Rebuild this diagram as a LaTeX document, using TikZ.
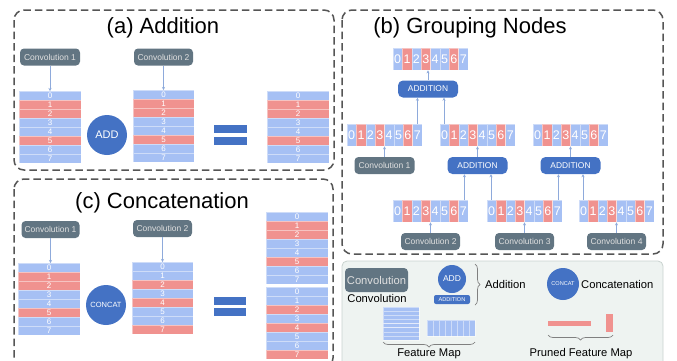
\documentclass[tikz,border=0pt]{standalone}
\usepackage{fontspec}
\setmainfont{Liberation Sans}
\usetikzlibrary{arrows.meta,decorations.pathreplacing,calc}

\definecolor{slate}{HTML}{627582}
\definecolor{accent}{HTML}{4472C4}
\definecolor{cellB}{HTML}{A6C0F4}
\definecolor{cellR}{HTML}{F0928F}
\definecolor{link}{HTML}{8EAADB}
\definecolor{frame}{HTML}{555555}
\definecolor{legendbg}{HTML}{EEF3F1}
\definecolor{legendline}{HTML}{C9D3CF}

\newcommand\fs[1]{\fontsize{#1}{#1}\selectfont}

\tikzset{
  x=1pt, y=-1pt,
  panel/.style={draw=frame, line width=1.5pt, dash pattern=on 7.5pt off 4pt, rounded corners=10pt},
  title/.style={font=\fs{22}, anchor=base, inner sep=0},
  convbox/.style={fill=slate, rounded corners=4pt, text=white!88!black, font=\fs{8.5},
    inner sep=0, minimum height=17pt, minimum width=60pt},
  addbox/.style={fill=accent, rounded corners=5pt, text=white, font=\fs{8.4},
    inner sep=0, minimum height=17pt, minimum width=60pt},
  opcircle/.style={circle, fill=accent, text=white, inner sep=0, minimum size=40pt},
  conn/.style={draw=link, line width=0.7pt, -{Stealth[length=3pt,width=3pt]}},
  mapframe/.style={inner sep=0, anchor=north west},
  cellsep/.style={draw=white, draw opacity=0.45, line width=0.4pt},
  vdigit/.style={font=\fs{8}, text=white, inner sep=0, anchor=base},
  hdigit/.style={font=\fs{12.5}, text=white, inner sep=0, anchor=base},
  bracket/.style={decorate, decoration={brace, amplitude=5pt}, draw=gray, line width=0.7pt},
  label/.style={font=\fs{11.2}, inner sep=0},
}

% vertical feature map: name, left, top, width, cell colours (rows 0..7, 9pt each)
\newcommand\vmap[5]{%
  \node[mapframe, minimum width=#4, minimum height=72] (#1) at (#2,#3) {};
  \foreach \c [count=\i from 0] in {#5}{
    \path[fill=\c, cellsep] (#2,{#3+9*\i}) rectangle ++(#4,9);
    \node[vdigit] (#1-\i) at ({#2+#4/2},{#3+9*\i+7.3}) {\i};
  }%
}

% horizontal feature map: name, left, top (columns 0..7)
\newcommand\hmap[3]{%
  \node[mapframe, minimum width=75, minimum height=22] (#1) at (#2,#3) {};
  \foreach \c [count=\i from 0] in {cellB,cellR,cellB,cellR,cellB,cellB,cellR,cellB}{
    \path[fill=\c, cellsep] ({#2+9.375*\i},#3) rectangle ++(9.375,22);
    \node[hdigit] (#1-\i) at ({#2+9.375*\i+4.69},{#3+15.5}) {\i};
  }%
}

\begin{document}
\begin{tikzpicture}
\useasboundingbox (0,0) rectangle (677,360);
\clip (0,0) rectangle (677,360);

% ---------------- (a) Addition ----------------
\draw[panel] (14,10) rectangle (334,170);
\node[title] (ta) at (163,33) {(a) Addition};
\node[convbox] (a-c1) at (50,57) {Convolution 1};
\vmap{a-m1}{19}{91}{62}{cellB,cellR,cellR,cellB,cellB,cellR,cellB,cellB}
\draw[conn] (a-c1) -- (a-c1 |- a-m1.north);
\node[opcircle, font=\fs{11}] (a-add) at (107,135) {ADD};
\node[convbox, minimum width=59] (a-c2) at (163.5,57) {Convolution 2};
\vmap{a-m2}{133}{90}{61}{cellB,cellR,cellR,cellB,cellB,cellR,cellB,cellB}
\draw[conn] (a-c2) -- (a-c2 |- a-m2.north);
\fill[accent] (214,125) rectangle (247,133);
\fill[accent] (214,137) rectangle (247,145);
\vmap{a-m3}{267}{91}{62}{cellB,cellR,cellR,cellB,cellB,cellR,cellB,cellB}

% ---------------- (c) Concatenation ----------------
\draw[panel] (14,179) rectangle (333,368);
\node[title] (tc) at (162,208) {(c) Concatenation};
\node[convbox, minimum width=58] (c-c1) at (50.5,229.5) {Convolution 1};
\vmap{c-m1}{18}{263}{62}{cellB,cellR,cellR,cellB,cellB,cellR,cellB,cellB}
\draw[conn] (c-c1) -- (c-c1 |- c-m1.north);
\node[opcircle, font=\fs{7.5}] (c-cat) at (106,305) {CONCAT};
\node[convbox, minimum width=59] (c-c2) at (162.5,228.5) {Convolution 2};
\vmap{c-m2}{132}{262}{61}{cellB,cellB,cellR,cellB,cellR,cellB,cellB,cellR}
\draw[conn] (c-c2) -- (c-c2 |- c-m2.north);
\fill[accent] (214,297) rectangle (246,305);
\fill[accent] (214,308) rectangle (246,316);
\vmap{c-m3}{266}{212}{62}{cellB,cellR,cellR,cellB,cellB,cellR,cellB,cellB}
\vmap{c-m4}{266}{287}{62}{cellB,cellB,cellR,cellB,cellR,cellB,cellB,cellR}

% ---------------- (b) Grouping Nodes ----------------
\draw[panel] (342,10) rectangle (663,254);
\node[title] (tb) at (470,33) {(b) Grouping Nodes};
\hmap{b-top}{393}{48}
\node[addbox] (b-add) at (428,89) {ADDITION};
\hmap{b-mA}{347}{124}
\hmap{b-mB}{440}{124}
\hmap{b-mC}{533}{124}
\node[convbox] (b-c1) at (384.5,165.5) {Convolution 1};
\node[addbox] (b-addM) at (477.5,165.5) {ADDITION};
\node[addbox] (b-addR) at (570.5,165.5) {ADDITION};
\hmap{b-mD}{393}{200}
\hmap{b-mE}{487}{200}
\hmap{b-mF}{579}{200}
\node[convbox, minimum width=59] (b-c2) at (430.5,241.5) {Convolution 2};
\node[convbox, minimum width=59] (b-c3) at (524.5,241.5) {Convolution 3};
\node[convbox, minimum width=59] (b-c4) at (616.5,241.5) {Convolution 4};

\draw[conn] (b-add) -- (b-add |- b-top.south);
\coordinate (b-ja) at ([xshift=-5pt]b-mA.north east);
\coordinate (b-jb) at ([xshift=4pt]b-mB.north west);
\draw[conn] (b-ja) -- (b-ja |- b-add.south);
\draw[conn] (b-jb) -- (b-jb |- b-add.south);
\draw[conn] (b-c1) -- (b-c1 |- b-mA.south);
\draw[conn] (b-addM) -- (b-addM |- b-mB.south);
\draw[conn] (b-addR) -- (b-addR |- b-mC.south);
\coordinate (b-jd) at ([xshift=-4pt]b-mD.north east);
\coordinate (b-je) at ([xshift=4pt]b-mE.north west);
\coordinate (b-jf) at ([xshift=-4pt]b-mE.north east);
\coordinate (b-jg) at ([xshift=4pt]b-mF.north west);
\draw[conn] (b-jd) -- (b-jd |- b-addM.south);
\draw[conn] (b-je) -- (b-je |- b-addM.south);
\draw[conn] (b-jf) -- (b-jf |- b-addR.south);
\draw[conn] (b-jg) -- (b-jg |- b-addR.south);
\draw[conn] (b-c2) -- (b-c2 |- b-mD.south);
\draw[conn] (b-c3) -- (b-c3 |- b-mE.south);
\draw[conn] (b-c4) -- (b-c4 |- b-mF.south);

% ---------------- legend ----------------
\draw[fill=legendbg, draw=legendline, line width=0.8pt, rounded corners=5pt] (342,261) rectangle (663,372);
\node[convbox, minimum width=63, minimum height=24, font=\fs{11.2}, rounded corners=4pt] (l-conv) at (376.5,280) {Convolution};
\node[label] (l-convlab) at (377,298) {Convolution};
\node[opcircle, minimum size=28, font=\fs{8.5}] (l-add) at (452,279) {ADD};
\node[addbox, minimum width=36, minimum height=9, font=\fs{5.6}, rounded corners=2pt] (l-addition) at (452,299.5) {ADDITION};
\draw[bracket] (475,264) -- (475,305);
\node[label, anchor=west] (l-addlab) at (485,284) {Addition};
\node[opcircle, minimum size=32, font=\fs{5.6}] (l-cat) at (563,284) {CONCAT};
\node[label, anchor=west] (l-catlab) at (581,284) {Concatenation};

% feature map symbols
\foreach \k in {0,...,7}{
  \path[fill=cellB, cellsep] (383,{307+4.125*\k}) rectangle ++(36,4.125);
  \path[fill=cellB, cellsep] ({427+6*\k},320) rectangle ++(6,16);
}
\draw[bracket] (475,342) -- (383,342);
\node[label] (l-fmlab) at (429,354) {Feature Map};

% pruned feature map symbols
\fill[cellR] (548,321) rectangle (591,326);
\fill[cellR] (606,314) rectangle (613,332);
\draw[bracket] (613,335) -- (548,335);
\node[label] (l-pfmlab) at (581,354) {Pruned Feature Map};
\end{tikzpicture}
\end{document}
